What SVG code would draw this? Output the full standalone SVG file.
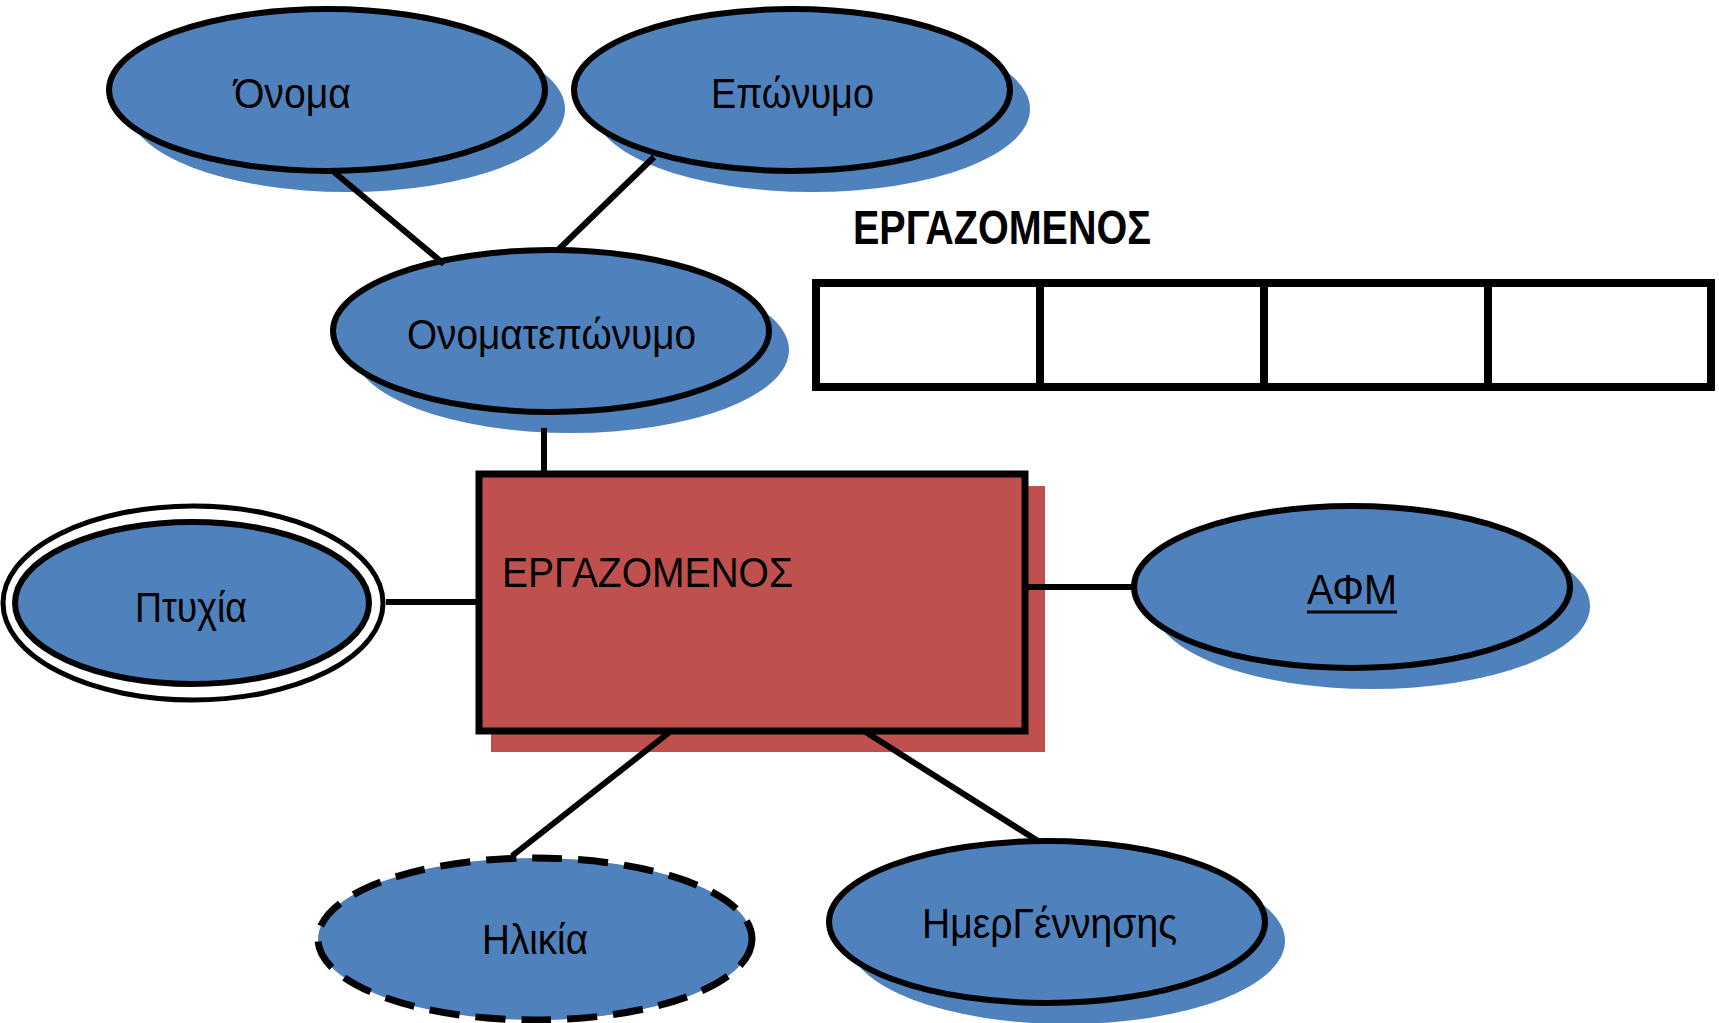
<svg xmlns="http://www.w3.org/2000/svg" width="1719" height="1023" viewBox="0 0 1719 1023">
<style>
.attr{fill:#4F81BD;stroke:#000;stroke-width:6}
.shadow{fill:#4F81BD;stroke:none}
.conn{stroke:#000;stroke-width:6;fill:none}
.lbl{font-family:"Liberation Sans",Arial,sans-serif;font-size:43px;fill:#000}
.cell{fill:#fff;stroke:#000;stroke-width:8}
</style>
<rect width="1719" height="1023" fill="#fff"/>
<g id="onoma">
<ellipse class="shadow" cx="347" cy="109" rx="218" ry="83"/>
<ellipse class="attr" cx="327" cy="90" rx="218" ry="81"/>
<text class="lbl" x="234" y="108" textLength="117" lengthAdjust="spacingAndGlyphs">Όνομα</text>
</g>
<g id="eponymo">
<ellipse class="shadow" cx="812" cy="109" rx="218" ry="83"/>
<ellipse class="attr" cx="792" cy="90" rx="218" ry="81"/>
<text class="lbl" x="711" y="108" textLength="163" lengthAdjust="spacingAndGlyphs">Επώνυμο</text>
</g>
<g id="onomateponymo">
<ellipse class="shadow" cx="571" cy="350" rx="218" ry="83"/>
<ellipse class="attr" cx="551" cy="331" rx="218" ry="81"/>
<text class="lbl" x="407" y="349" textLength="289" lengthAdjust="spacingAndGlyphs">Ονοματεπώνυμο</text>
</g>
<g id="title">
<text x="853" y="244" font-family="'Liberation Sans',Arial,sans-serif" font-size="48" font-weight="bold" textLength="298" lengthAdjust="spacingAndGlyphs">ΕΡΓΑΖΟΜΕΝΟΣ</text>
</g>
<g id="table">
<rect class="cell" x="816" y="283" width="895" height="104"/>
<line x1="1040" y1="283" x2="1040" y2="387" stroke="#000" stroke-width="8"/>
<line x1="1264" y1="283" x2="1264" y2="387" stroke="#000" stroke-width="8"/>
<line x1="1488" y1="283" x2="1488" y2="387" stroke="#000" stroke-width="8"/>
</g>
<g id="ergazomenos">
<rect x="491" y="486" width="554" height="266" fill="#C0504D"/>
<rect x="479" y="474" width="546" height="257" fill="#C0504D" stroke="#000" stroke-width="7"/>
<text class="lbl" x="502" y="587" textLength="291" lengthAdjust="spacingAndGlyphs">ΕΡΓΑΖΟΜΕΝΟΣ</text>
</g>
<g id="ptyxia">
<ellipse cx="193" cy="603" rx="190" ry="97" fill="#fff" stroke="#000" stroke-width="5"/>
<ellipse class="attr" cx="192" cy="603" rx="177" ry="81"/>
<text class="lbl" x="135" y="622" textLength="112" lengthAdjust="spacingAndGlyphs">Πτυχία</text>
</g>
<g id="afm">
<ellipse class="shadow" cx="1372" cy="606" rx="218" ry="83"/>
<ellipse class="attr" cx="1352" cy="587" rx="218" ry="81"/>
<text class="lbl" x="1307" y="604" textLength="90" lengthAdjust="spacingAndGlyphs">ΑΦΜ</text>
<line x1="1307" y1="612" x2="1397" y2="612" stroke="#000" stroke-width="3"/>
</g>
<g id="ilikia">
<ellipse cx="535" cy="939" rx="217" ry="81" fill="#4F81BD" stroke="#000" stroke-width="7" stroke-dasharray="30 16"/>
<text class="lbl" x="482" y="954" textLength="106" lengthAdjust="spacingAndGlyphs">Ηλικία</text>
</g>
<g id="imergennisis">
<ellipse class="shadow" cx="1067" cy="941" rx="218" ry="83"/>
<ellipse class="attr" cx="1047" cy="922" rx="218" ry="81"/>
<text class="lbl" x="922" y="938" textLength="255" lengthAdjust="spacingAndGlyphs">ΗμερΓέννησης</text>
</g>
<g id="connectors">
<line class="conn" x1="334" y1="172" x2="444" y2="264"/>
<line class="conn" x1="654" y1="157" x2="559" y2="249"/>
<line class="conn" x1="544" y1="428" x2="544" y2="474"/>
<line class="conn" x1="386" y1="602" x2="479" y2="602"/>
<line class="conn" x1="1025" y1="587" x2="1135" y2="587"/>
<line class="conn" x1="671" y1="731" x2="512" y2="856"/>
<line class="conn" x1="864" y1="731" x2="1038" y2="841"/>
</g>
</svg>
